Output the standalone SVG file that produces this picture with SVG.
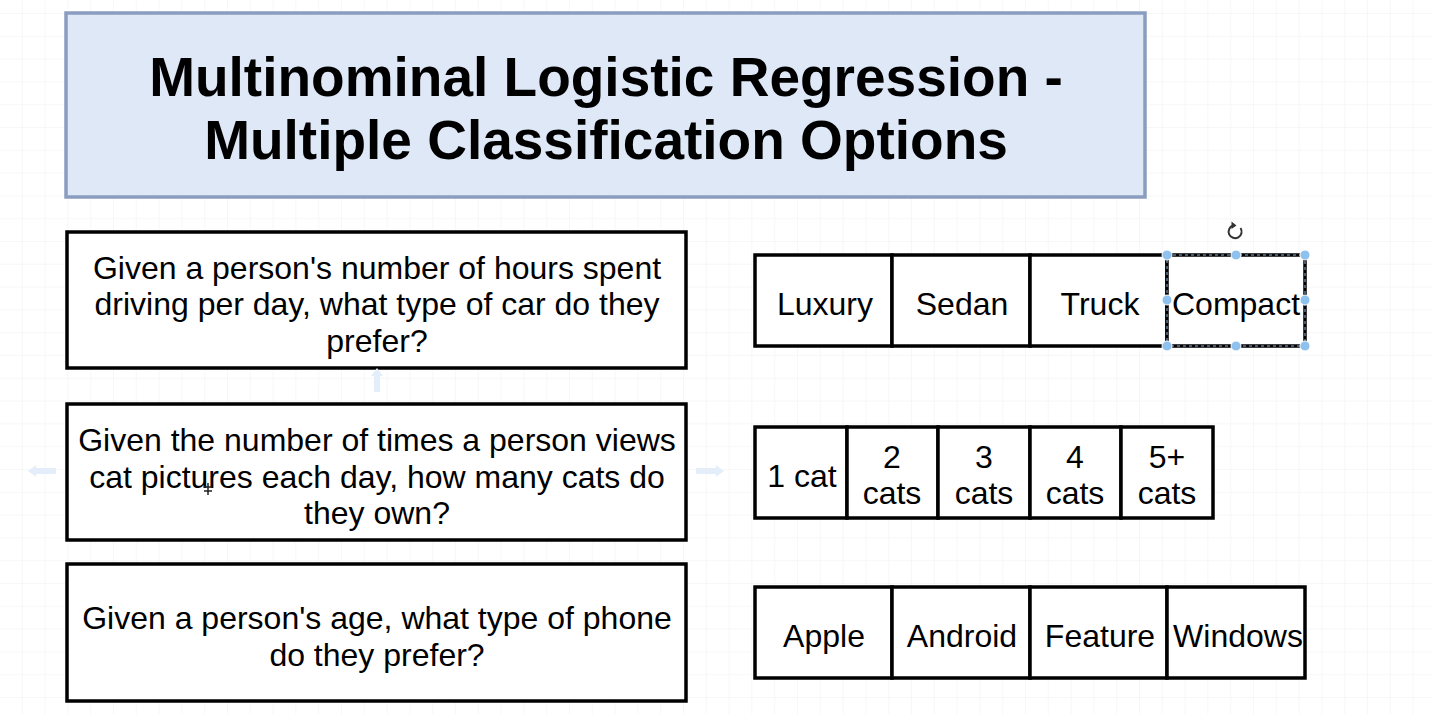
<svg xmlns="http://www.w3.org/2000/svg" width="1432" height="714" viewBox="0 0 1432 714">
<defs>
<pattern id="grid" x="0" y="14" width="22.8" height="22.8" patternUnits="userSpaceOnUse">
<path d="M22.8 0V22.8M0 22.8H22.8" fill="none" stroke="#f0f0f0" stroke-width="1"/>
</pattern>
<style>
.q{fill:#fff;stroke:#000;stroke-width:3.5}
.c{fill:#fff;stroke:#000;stroke-width:3.5}
.t{font-family:"Liberation Sans",Arial,Helvetica,sans-serif;font-size:32px;fill:#000;text-anchor:middle}
.title{font-family:"Liberation Sans",Arial,Helvetica,sans-serif;font-size:55px;font-weight:bold;fill:#000;text-anchor:middle}
.h{fill:#8fc1ee;stroke:#fff;stroke-width:1}
.hint{fill:#e3eefa}
</style>
</defs>
<rect width="1432" height="714" fill="#fff"/>
<rect width="1432" height="714" fill="url(#grid)"/>

<g id="title">
<rect x="66" y="13" width="1079" height="184" fill="#dfe8f7" stroke="#8a9dc0" stroke-width="3.5"/>
<text class="title" x="606" y="96">Multinominal Logistic Regression -</text>
<text class="title" x="606" y="159">Multiple Classification Options</text>
</g>

<g id="q1">
<rect class="q" x="67" y="232" width="619" height="136"/>
<text class="t" x="377" y="279">Given a person's number of hours spent</text>
<text class="t" x="377" y="315">driving per day, what type of car do they</text>
<text class="t" x="377" y="352">prefer?</text>
</g>

<g id="q2">
<rect class="q" x="67" y="404" width="619" height="136"/>
<text class="t" x="377" y="451">Given the number of times a person views</text>
<text class="t" x="377" y="488">cat pictures each day, how many cats do</text>
<text class="t" x="377" y="524">they own?</text>
</g>

<g id="q3">
<rect class="q" x="67" y="564" width="619" height="137"/>
<text class="t" x="377" y="629">Given a person's age, what type of phone</text>
<text class="t" x="377" y="666">do they prefer?</text>
</g>

<g id="cars">
<rect class="c" x="755" y="255" width="137" height="91"/>
<rect class="c" x="892" y="255" width="138" height="91"/>
<rect class="c" x="1030" y="255" width="137" height="91"/>
<text class="t" x="825" y="315">Luxury</text>
<text class="t" x="962" y="315">Sedan</text>
<text class="t" x="1100" y="315">Truck</text>
</g>

<g id="compact">
<rect x="1167" y="255" width="138" height="91" fill="#fff" stroke="#000" stroke-width="3.5"/>
<rect x="1167" y="255" width="138" height="91" fill="none" stroke="#8fb5dc" stroke-width="1" stroke-dasharray="3 3"/>
<text class="t" x="1236" y="315">Compact</text>
<circle class="h" cx="1167" cy="255" r="5"/>
<circle class="h" cx="1236" cy="255" r="5"/>
<circle class="h" cx="1305" cy="255" r="5"/>
<circle class="h" cx="1167" cy="300" r="5"/>
<circle class="h" cx="1305" cy="300" r="5"/>
<circle class="h" cx="1167" cy="346" r="5"/>
<circle class="h" cx="1236" cy="346" r="5"/>
<circle class="h" cx="1305" cy="346" r="5"/>
<path d="M1240.5 228A6.5 6.5 0 1 1 1233 225.5" fill="none" stroke="#333" stroke-width="2"/>
<path d="M1231.5 221.5L1236.5 225.5L1231.5 229Z" fill="#333"/>
</g>

<g id="cats">
<rect class="c" x="755" y="427" width="92" height="91"/>
<rect class="c" x="847" y="427" width="91" height="91"/>
<rect class="c" x="938" y="427" width="92" height="91"/>
<rect class="c" x="1030" y="427" width="91" height="91"/>
<rect class="c" x="1121" y="427" width="92" height="91"/>
<text class="t" x="802" y="487">1 cat</text>
<text class="t" x="892" y="468">2</text>
<text class="t" x="892" y="504">cats</text>
<text class="t" x="984" y="468">3</text>
<text class="t" x="984" y="504">cats</text>
<text class="t" x="1075" y="468">4</text>
<text class="t" x="1075" y="504">cats</text>
<text class="t" x="1167" y="468">5+</text>
<text class="t" x="1167" y="504">cats</text>
</g>

<g id="phones">
<rect class="c" x="755" y="587" width="137" height="91"/>
<rect class="c" x="892" y="587" width="138" height="91"/>
<rect class="c" x="1030" y="587" width="137" height="91"/>
<rect class="c" x="1167" y="587" width="138" height="91"/>
<text class="t" x="824" y="647">Apple</text>
<text class="t" x="962" y="647">Android</text>
<text class="t" x="1100" y="647">Feature</text>
<text class="t" x="1238" y="647">Windows</text>
</g>

<g id="connectors">
<path class="hint" d="M377 368L383 376H380V392H374V376H371Z"/>
<path class="hint" d="M28 471L36 465V468H56V474H36V477Z"/>
<path class="hint" d="M724 471L716 465V468H696V474H716V477Z"/>
<path d="M204 487H212M208 483V495M204 491H212" stroke="#222" stroke-width="1.5" fill="none"/>
</g>
</svg>
